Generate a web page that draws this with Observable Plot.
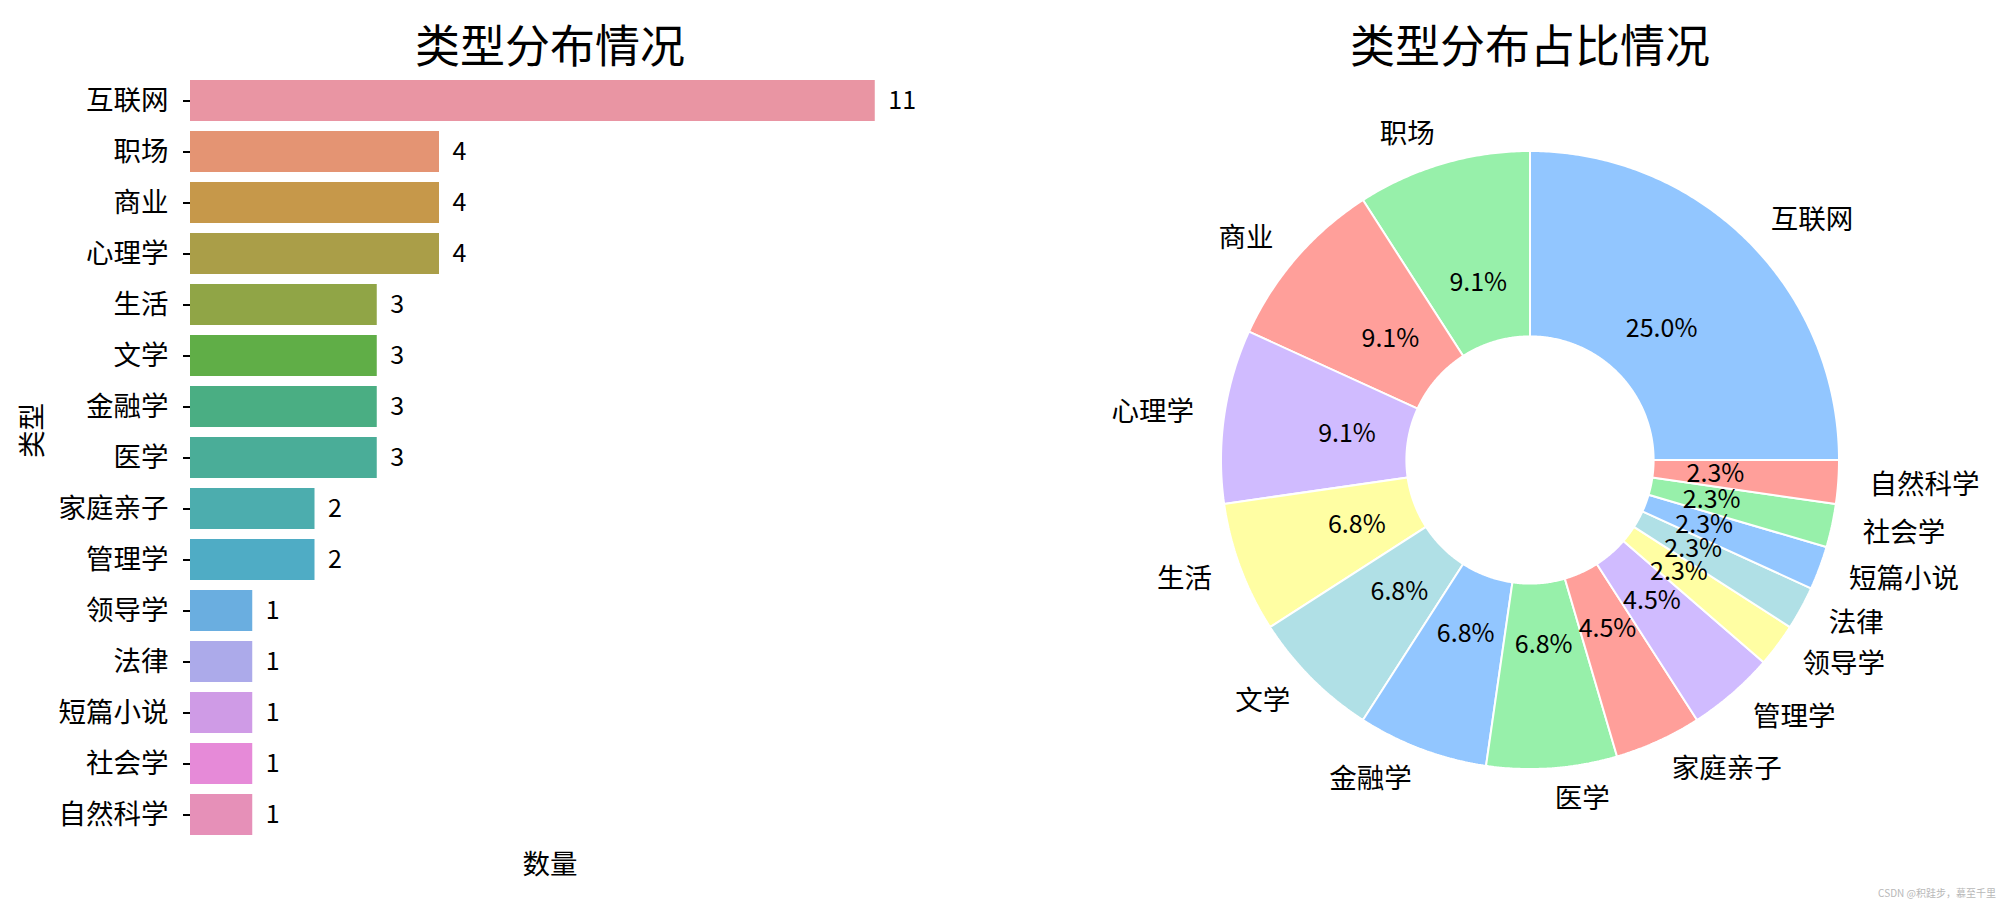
<!DOCTYPE html>
<html>
<head>
<meta charset="utf-8">
<script src="https://cdn.jsdelivr.net/npm/d3@7"></script>
<script src="https://cdn.jsdelivr.net/npm/@observablehq/plot@0.6"></script>
<style>
  html, body { margin: 0; padding: 0; background: #fff; }
  #root { position: relative; width: 2000px; height: 899px; overflow: hidden; font-family: "Noto Sans CJK SC", sans-serif; }
  #root svg { position: absolute; top: 0; }
  .title { position: absolute; font-size: 45px; line-height: 50px; text-align: center; color: #000; }
  .wm { position: absolute; font-size: 10px; color: #b8b8b8; right: 4px; top: 885px; }
</style>
</head>
<body>
<div id="root"></div>
<script>
// ---- data ----
const categories = ["互联网", "职场", "商业", "心理学", "生活", "文学", "金融学", "医学", "家庭亲子", "管理学", "领导学", "法律", "短篇小说", "社会学", "自然科学"];
const counts = [11, 4, 4, 4, 3, 3, 3, 3, 2, 2, 1, 1, 1, 1, 1];
const barColors = ["#e995a3", "#e49473", "#c6984a", "#aa9e48", "#90a546", "#60ae47", "#4aae83", "#4aad98", "#4cadae", "#4facc5", "#6aaee0", "#acaaea", "#cf9be6", "#e68ad8", "#e690b8"];
const pastel = ["#92C6FF", "#97F0AA", "#FF9F9A", "#D0BBFF", "#FFFEA3", "#B0E0E6"];
const barTitle = "类型分布情况";
const pieTitle = "类型分布占比情况";
const yLabel = "类型";
const xLabel = "数量";
const watermark = "CSDN @积跬步，慕至千里";

const FONT = "'Noto Sans CJK SC', 'Noto Sans', sans-serif";
const root = document.getElementById("root");
const rows = categories.map((c, i) => ({cat: c, n: counts[i]}));

// ---- bar chart ----
const bar = Plot.plot({
  width: 960, height: 899,
  marginLeft: 190, marginRight: 51, marginTop: 73.4, marginBottom: 57.4,
  style: {fontFamily: FONT, background: "transparent", color: "#000"},
  x: {domain: [0, d3.max(counts) * 1.05], axis: null},
  y: {domain: categories, type: "band", paddingInner: 0.2, paddingOuter: 0.1, axis: null},
  color: {domain: categories, range: barColors},
  marks: [
    Plot.barX(rows, {x: "n", y: "cat", fill: "cat"}),
    Plot.axisY({tickSize: 7, tickPadding: 15, fontSize: 27.5, strokeWidth: 2, label: null}),
    Plot.text(rows, {x: "n", y: "cat", text: d => String(d.n), dx: 13, textAnchor: "start", fontSize: 25, fill: "#000"}),
    Plot.text([yLabel], {frameAnchor: "left", dx: -157, rotate: -90, fontSize: 27.5, fill: "#000"}),
    Plot.text([xLabel], {frameAnchor: "bottom", dy: 23, lineAnchor: "middle", fontSize: 27.5, fill: "#000"})
  ]
});
bar.style.left = "0px";
root.appendChild(bar);

// ---- donut ----
const INNER = 0.4;
const R = 309, CX = 530, CY = 460, PW = 1000, PH = 899;
const total = d3.sum(counts);
const wedgePts = [];
const pieLabels = [];
let cum = 0;
categories.forEach((c, i) => {
  const a0 = cum / total * 2 * Math.PI;
  cum += counts[i];
  const a1 = cum / total * 2 * Math.PI;
  const steps = Math.max(2, Math.ceil((a1 - a0) / (Math.PI / 360)));
  for (let k = 0; k <= steps; k++) {
    const a = a0 + (a1 - a0) * k / steps;
    wedgePts.push({cat: c, x1: Math.cos(a), y1: Math.sin(a), x2: INNER * Math.cos(a), y2: INNER * Math.sin(a)});
  }
  const am = (a0 + a1) / 2;
  pieLabels.push({
    cat: c,
    pct: (counts[i] / total * 100).toFixed(1) + "%",
    lx: 1.1 * Math.cos(am), ly: 1.1 * Math.sin(am),
    px: 0.6 * Math.cos(am), py: 0.6 * Math.sin(am)
  });
});

const pie = Plot.plot({
  width: PW, height: PH,
  marginLeft: 0, marginRight: 0, marginTop: 0, marginBottom: 0,
  style: {fontFamily: FONT, background: "transparent", color: "#000"},
  x: {domain: [-CX / R, (PW - CX) / R], axis: null},
  y: {domain: [-(PH - CY) / R, CY / R], axis: null},
  color: {domain: categories, range: categories.map((_, i) => pastel[i % pastel.length])},
  marks: [
    Plot.area(wedgePts, {x1: "x1", y1: "y1", x2: "x2", y2: "y2", z: "cat", fill: "cat", stroke: "white", strokeWidth: 2, strokeLinejoin: "miter"}),
    Plot.text(pieLabels, {x: "px", y: "py", text: "pct", fontSize: 25, fill: "#000"}),
    Plot.text(pieLabels.filter(d => d.lx >= 0), {x: "lx", y: "ly", text: "cat", textAnchor: "start", fontSize: 27.5, fill: "#000"}),
    Plot.text(pieLabels.filter(d => d.lx < 0), {x: "lx", y: "ly", text: "cat", textAnchor: "end", fontSize: 27.5, fill: "#000"})
  ]
});
pie.style.left = "1000px";
root.appendChild(pie);

// ---- titles & watermark ----
function addTitle(text, cx) {
  const d = document.createElement("div");
  d.className = "title";
  d.textContent = text;
  d.style.left = (cx - 300) + "px";
  d.style.width = "600px";
  d.style.top = (44 - 25) + "px";
  root.appendChild(d);
}
addTitle(barTitle, 550);
addTitle(pieTitle, 1530);
const wm = document.createElement("div");
wm.className = "wm";
wm.textContent = watermark;
root.appendChild(wm);
</script>
</body>
</html>
